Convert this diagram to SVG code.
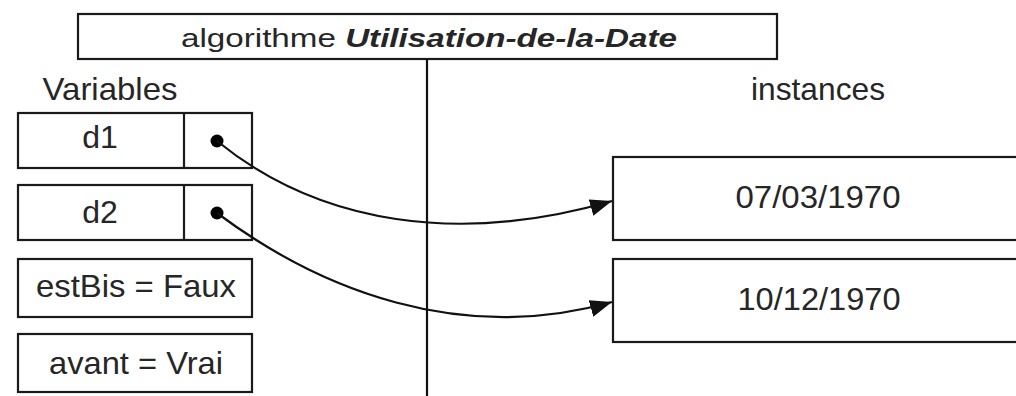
<svg xmlns="http://www.w3.org/2000/svg" width="1016" height="396" viewBox="0 0 1016 396">
<style>
.box{fill:#fff;stroke:#1a1a1a;stroke-width:2.2}
.t{font-family:"Liberation Sans",Arial,sans-serif;font-size:32px;fill:#262626;text-anchor:middle}
.c{fill:none;stroke:#111;stroke-width:2.2}
</style>
<defs>
<marker id="ah" markerUnits="userSpaceOnUse" markerWidth="24" markerHeight="18" refX="22" refY="8" orient="auto">
<path d="M0,0 L22,8 L0,17 Z" fill="#111"/>
</marker>
</defs>
<rect width="1016" height="396" fill="#fff"/>
<g id="title">
<rect class="box" x="78" y="14" width="699" height="45"/>
<text class="t" x="429" y="47" style="font-size:26px" textLength="496" lengthAdjust="spacingAndGlyphs">algorithme <tspan font-weight="bold" font-style="italic">Utilisation-de-la-Date</tspan></text>
</g>
<g id="divider">
<line x1="427" y1="59" x2="427" y2="396" stroke="#111" stroke-width="2.2"/>
</g>
<g id="label-variables"><text class="t" x="110" y="100" textLength="135" lengthAdjust="spacingAndGlyphs">Variables</text></g>
<g id="label-instances"><text class="t" x="818" y="100" textLength="134" lengthAdjust="spacingAndGlyphs">instances</text></g>
<g id="var-d1">
<rect class="box" x="18" y="113" width="234" height="55"/>
<line x1="184" y1="113" x2="184" y2="168" stroke="#1a1a1a" stroke-width="2.2"/>
<text class="t" x="100" y="148">d1</text>
<circle cx="217" cy="141" r="6.5" fill="#000"/>
</g>
<g id="var-d2">
<rect class="box" x="18" y="185" width="234" height="55"/>
<line x1="184" y1="185" x2="184" y2="240" stroke="#1a1a1a" stroke-width="2.2"/>
<text class="t" x="100" y="223">d2</text>
<circle cx="217" cy="213" r="6.5" fill="#000"/>
</g>
<g id="var-estBis">
<rect class="box" x="18" y="259" width="234" height="58"/>
<text class="t" x="136" y="297" textLength="200" lengthAdjust="spacingAndGlyphs">estBis = Faux</text>
</g>
<g id="var-avant">
<rect class="box" x="18" y="334" width="234" height="58"/>
<text class="t" x="136" y="374" textLength="174" lengthAdjust="spacingAndGlyphs">avant = Vrai</text>
</g>
<g id="inst1">
<rect class="box" x="613" y="157" width="420" height="83"/>
<text class="t" x="818" y="208" textLength="165" lengthAdjust="spacingAndGlyphs">07/03/1970</text>
</g>
<g id="inst2">
<rect class="box" x="613" y="259" width="420" height="83"/>
<text class="t" x="819" y="310" textLength="163" lengthAdjust="spacingAndGlyphs">10/12/1970</text>
</g>
<g id="connectors">
<path class="c" d="M217,141 C320,225 460,245 612,201" marker-end="url(#ah)"/>
<path class="c" d="M217,213 C320,290 460,345 612,302" marker-end="url(#ah)"/>
</g>
</svg>
